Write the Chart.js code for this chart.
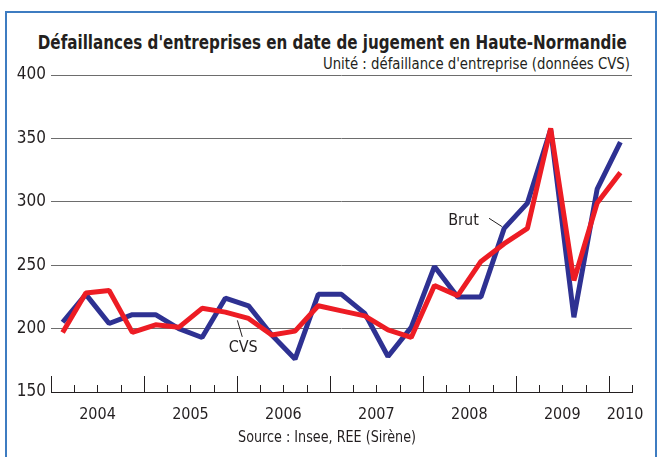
<!DOCTYPE html>
<html lang="fr">
<head>
<meta charset="utf-8">
<script src="https://cdn.jsdelivr.net/npm/chart.js@4.4.1/dist/chart.umd.min.js"></script>
<style>
  body { margin: 0; background: #fff; }
  #wrap { position: relative; width: 660px; height: 457px; overflow: hidden;
    font-family: 'Liberation Sans Narrow', 'DejaVu Sans Condensed', sans-serif; color: #231f20; }
  #frame { position: absolute; left: 5px; top: 11px; width: 648px; height: 470px;
    border: 2px solid #3d7cc1; border-bottom: none; }
  .line { position: absolute; white-space: nowrap; }
  .line span { display: inline-block; transform-origin: 50% 50%; }
  #title { top: 31px; left: 0; width: 655px; text-align: center; font-weight: bold; font-size: 19px; }
  #unit { top: 55px; right: 30px; font-size: 15px; }
  #unit span { transform-origin: 100% 50%; }
  #source { top: 428px; left: 0; width: 655px; text-align: center; font-size: 15px; }
  canvas { position: absolute; left: 0; top: 0; }
</style>
</head>
<body>
<div id="wrap">
  <div id="frame"></div>
  <div id="title" class="line"><span>Défaillances d'entreprises en date de jugement en Haute-Normandie</span></div>
  <div id="unit" class="line"><span>Unité : défaillance d'entreprise (données CVS)</span></div>
  <canvas id="myChart" width="660" height="457"></canvas>
  <div id="source" class="line"><span>Source : Insee, REE (Sirène)</span></div>
</div>
<script>
  const FONT = "'Liberation Sans Narrow', 'DejaVu Sans Condensed', sans-serif";

  const quarters = [
    '2004 T1', '2004 T2', '2004 T3', '2004 T4',
    '2005 T1', '2005 T2', '2005 T3', '2005 T4',
    '2006 T1', '2006 T2', '2006 T3', '2006 T4',
    '2007 T1', '2007 T2', '2007 T3', '2007 T4',
    '2008 T1', '2008 T2', '2008 T3', '2008 T4',
    '2009 T1', '2009 T2', '2009 T3', '2009 T4',
    '2010 T1',
  ];
  const brut = [205, 227, 204, 211, 211, 200, 193, 224, 218, 195, 176, 227,
                227, 212, 178, 201, 249, 225, 225, 279, 299, 357, 209, 310, 347];
  const cvs = [197, 228, 230, 197, 203, 201, 216, 213, 208, 195, 198, 218,
               214, 210, 199, 193, 234, 226, 253, 267, 279, 358, 238, 299, 323];
  const years = ['2004', '2005', '2006', '2007', '2008', '2009', '2010'];
  const yTicks = [150, 200, 250, 300, 350, 400];

  // squeeze the header/footer text to the widths of the printed (narrow) font
  function fitWidth(id, width) {
    const span = document.querySelector(`#${id} span`);
    const w = span.getBoundingClientRect().width;
    if (w > 0) span.style.transform = `scaleX(${width / w})`;
  }
  fitWidth('title', 589);
  fitWidth('unit', 307);
  fitWidth('source', 178);

  // quarter i is drawn in the middle of its slot [i, i+1]
  const toPoints = (arr) => arr.map((v, i) => ({ x: i + 0.5, y: v }));

  // small up-ticks on the x axis: long ones between years
  const quarterTicks = {
    id: 'quarterTicks',
    afterDraw(chart) {
      const x = chart.scales.x;
      const ctx = chart.ctx;
      ctx.save();
      ctx.strokeStyle = '#231f20';
      ctx.lineWidth = 1;
      for (let i = 0; i <= quarters.length; i++) {
        const px = Math.round(x.getPixelForValue(i)) + 0.5;
        const len = i % 4 === 0 ? 16 : 7;
        ctx.beginPath();
        ctx.moveTo(px, x.top);
        ctx.lineTo(px, x.top - len);
        ctx.stroke();
      }
      ctx.restore();
    },
  };

  // "Brut" / "CVS" labels with their leader lines
  const seriesLabels = {
    id: 'seriesLabels',
    afterDatasetsDraw(chart) {
      const { x, y } = chart.scales;
      const ctx = chart.ctx;
      const notes = [
        { text: 'Brut', at: [17.75, 285], line: [[18.85, 287], [19.4, 280.5]] },
        { text: 'CVS', at: [8.27, 184.5], line: [[8.02, 206.5], [8.23, 193.5]] },
      ];
      ctx.save();
      ctx.fillStyle = '#231f20';
      ctx.strokeStyle = '#231f20';
      ctx.lineWidth = 1;
      ctx.font = '16px ' + FONT;
      ctx.textAlign = 'center';
      ctx.textBaseline = 'middle';
      notes.forEach((n) => {
        ctx.fillText(n.text, x.getPixelForValue(n.at[0]), y.getPixelForValue(n.at[1]));
        ctx.beginPath();
        ctx.moveTo(x.getPixelForValue(n.line[0][0]), y.getPixelForValue(n.line[0][1]));
        ctx.lineTo(x.getPixelForValue(n.line[1][0]), y.getPixelForValue(n.line[1][1]));
        ctx.stroke();
      });
      ctx.restore();
    },
  };

  const ctx = document.getElementById('myChart');

  new Chart(ctx, {
    type: 'line',
    data: {
      datasets: [
        {
          label: 'CVS',
          data: toPoints(cvs),
          borderColor: '#ed1c24',
          borderWidth: 5,
          pointRadius: 0,
          tension: 0,
          borderJoinStyle: 'bevel',
        },
        {
          label: 'Brut',
          data: toPoints(brut),
          borderColor: '#2e3192',
          borderWidth: 5,
          pointRadius: 0,
          tension: 0,
          borderJoinStyle: 'bevel',
        },
      ],
    },
    options: {
      responsive: false,
      animation: false,
      events: [],
      layout: { padding: { left: 0, right: 28, top: 75, bottom: 35 } },
      plugins: {
        legend: { display: false },
        tooltip: { enabled: false },
      },
      scales: {
        x: {
          type: 'linear',
          min: 0,
          max: quarters.length,
          afterBuildTicks: (scale) => {
            scale.ticks = years.map((yr, i) => ({ value: Math.min(i * 4 + 2, quarters.length - 0.3) }));
          },
          afterFit: (scale) => { scale.height = 30; },
          ticks: {
            autoSkip: false,
            maxRotation: 0,
            padding: 13,
            color: '#231f20',
            font: { family: FONT, size: 16 },
            callback: (value, index) => years[index],
          },
          grid: { display: false, drawTicks: false },
          border: { display: true, color: '#231f20', width: 1 },
        },
        y: {
          min: yTicks[0],
          max: yTicks[yTicks.length - 1],
          afterBuildTicks: (scale) => {
            scale.ticks = yTicks.map((v) => ({ value: v }));
          },
          afterFit: (scale) => { scale.width = 51; },
          ticks: {
            padding: 5,
            color: '#231f20',
            font: { family: FONT, size: 17 },
          },
          grid: { color: '#6d6d6d', lineWidth: 1, drawTicks: false },
          border: { display: false },
        },
      },
    },
    plugins: [quarterTicks, seriesLabels],
  });
</script>
</body>
</html>
